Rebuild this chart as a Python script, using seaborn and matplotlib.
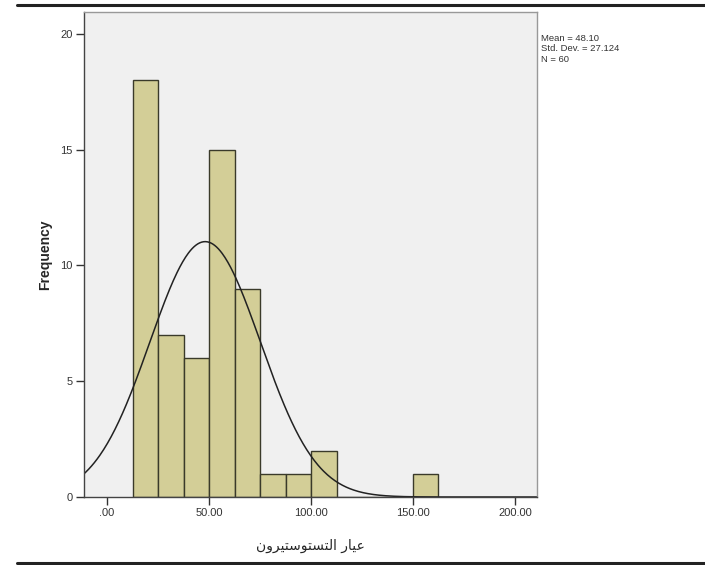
import numpy as np
import pandas as pd
import matplotlib
matplotlib.use("Agg")
import matplotlib.pyplot as plt
import seaborn as sns

# Histogram of testosterone level: bin edges and counts per bin
bin_edges = [12.5, 25.0, 37.5, 50.0, 62.5, 75.0, 87.5, 100.0, 112.5,
             125.0, 137.5, 150.0, 162.5]
bin_counts = [18, 7, 6, 15, 9, 1, 1, 2, 0, 0, 0, 1]

# Summary statistics
stat_mean = 48.10
stat_sd = 27.124
stat_n = 60

x_ticks = [0, 50, 100, 150, 200]
x_tick_labels = [".00", "50.00", "100.00", "150.00", "200.00"]
y_ticks = [0, 5, 10, 15, 20]
y_tick_labels = ["0", "5", "10", "15", "20"]

# "عيار التستوستيرون" in Arabic presentation forms, visual (left-to-right) order
x_label = ("\uFEE5\uFEED\uFEAE\uFEF4\uFE98\uFEB3\uFEEE\uFE98\uFEB4\uFE98\uFEDF\uFE8D"
           " \uFEAD\uFE8E\uFEF4\uFECB")

sns.set_theme(style="white")
plt.rcParams["font.family"] = ["Liberation Sans", "DejaVu Sans"]

fig = plt.figure(figsize=(7.05, 5.65), dpi=100)
ax = fig.add_axes([84 / 705, 68 / 565, 453 / 705, 485 / 565])
ax.set_facecolor("#f0f0f0")

centers = [(a + b) / 2 for a, b in zip(bin_edges[:-1], bin_edges[1:])]
df = pd.DataFrame({"value": centers, "count": bin_counts})
sns.histplot(data=df, x="value", weights="count", bins=bin_edges, ax=ax,
             color="#d3ce97", alpha=1.0, edgecolor="#3a3a2a", linewidth=1.0)

# Fitted normal curve scaled to the histogram (N * bin width)
bw = bin_edges[1] - bin_edges[0]
xs = np.linspace(-15, 215, 500)
ys = stat_n * bw / (stat_sd * np.sqrt(2 * np.pi)) * np.exp(-0.5 * ((xs - stat_mean) / stat_sd) ** 2)
sns.lineplot(x=xs, y=ys, ax=ax, color="#222222", linewidth=1.1)

ax.set_xlim(-11.3, 210.8)
ax.set_ylim(0, 20.95)
ax.set_xticks(x_ticks)
ax.set_xticklabels(x_tick_labels)
ax.set_yticks(y_ticks)
ax.set_yticklabels(y_tick_labels)
ax.tick_params(axis="both", direction="out", length=6, width=1.0, color="#333333",
               labelsize=8, labelcolor="#333333", pad=2, bottom=True, left=True)
for side in ["left", "bottom"]:
    ax.spines[side].set_color("#444444")
    ax.spines[side].set_linewidth(1.0)
for side in ["top", "right"]:
    ax.spines[side].set_color("#999999")
    ax.spines[side].set_linewidth(1.0)

ax.set_xlabel(x_label, fontsize=10, family=["DejaVu Sans"], labelpad=15)
ax.set_ylabel("Frequency", fontsize=10, fontweight="bold", labelpad=6)

stats_text = f"Mean = {stat_mean:.2f}\nStd. Dev. = {stat_sd:.3f}\nN = {stat_n}"
fig.text(541 / 705, 1 - 34 / 565, stats_text, fontsize=6.8, color="#333333",
         va="top", ha="left", linespacing=1.2)

# Horizontal rules above and below the chart
fig.add_artist(plt.Line2D([17 / 705, 1], [1 - 4.5 / 565] * 2, color="#222222", linewidth=2.2))
fig.add_artist(plt.Line2D([17 / 705, 1], [1 - 563 / 565] * 2, color="#222222", linewidth=2.2))

fig.savefig("out.png", dpi=100)
